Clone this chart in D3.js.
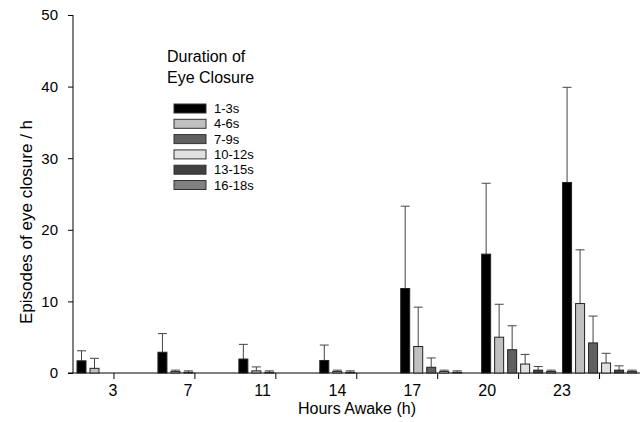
<!DOCTYPE html>
<html>
<head>
<meta charset="utf-8">
<script src="https://cdn.jsdelivr.net/npm/d3@7"></script>
<style>
  body { margin: 0; background: #fff; }
  svg { font-family: 'Liberation Sans', Arial, sans-serif; }
</style>
</head>
<body>
<svg width="643" height="422"></svg>
<script>
// hours awake on the x axis
const hours = [3, 7, 11, 14, 17, 20, 23]
const durations = ['1-3s', '4-6s', '7-9s', '10-12s', '13-15s', '16-18s']
const fills = ['#000000', '#c0c0c0', '#606060', '#e0e0e0', '#404040', '#808080']
const yTicks = [0, 10, 20, 30, 40, 50]

// mean episodes per hour, one array per duration class
const mean13 = [1.7, 2.9, 1.95, 1.75, 11.8, 16.6, 26.6]
const mean46 = [0.65, 0.2, 0.3, 0.2, 3.7, 5.0, 9.7]
const mean79 = [0, 0.1, 0.1, 0.1, 0.8, 3.25, 4.2]
const mean1012 = [0, 0, 0, 0, 0.2, 1.25, 1.4]
const mean1315 = [0, 0, 0, 0, 0.1, 0.4, 0.4]
const mean1618 = [0, 0, 0, 0, 0, 0.2, 0.2]

// upper error (SD)
const sd13 = [1.4, 2.6, 2.05, 2.15, 11.5, 9.9, 13.3]
const sd46 = [1.4, 0.2, 0.55, 0.2, 5.5, 4.6, 7.5]
const sd79 = [0, 0.2, 0.2, 0.2, 1.3, 3.35, 3.75]
const sd1012 = [0, 0, 0, 0, 0.2, 1.35, 1.35]
const sd1315 = [0, 0, 0, 0, 0.2, 0.5, 0.6]
const sd1618 = [0, 0, 0, 0, 0, 0.2, 0.2]

const means = [mean13, mean46, mean79, mean1012, mean1315, mean1618]
const sds = [sd13, sd46, sd79, sd1012, sd1315, sd1618]

let rows = []
hours.forEach((h, i) => {
  durations.forEach((d, j) => {
    rows.push({ hour: h, dur: d, fill: fills[j], v: means[j][i], e: sds[j][i] })
  })
})

let svg = d3.select('svg')

let y = d3.scaleLinear().domain([0, 50]).range([373, 15])
let x0 = d3.scaleBand().domain(hours).range([73.5, 640])
let x1 = d3.scaleBand().domain(durations).range([3.5, 77.5]).paddingInner(4 / 13)
let xLab = d3.scalePoint().domain(hours).range([113, 562])

// y axis
let yAxis = d3.axisLeft(y).tickValues(yTicks).tickSize(5).tickPadding(10)
let gy = svg.append('g')
  .attr('transform', 'translate(73, 0)')
  .call(yAxis)
gy.select('.domain').attr('d', 'M0,' + y(50) + 'V' + y(0)).attr('stroke', '#000')
gy.selectAll('text').attr('font-size', 15).attr('font-family', null).attr('fill', '#000')

// x axis line with ticks at group centres
let gx = svg.append('g')
gx.append('line')
  .attr('x1', 68).attr('x2', 640)
  .attr('y1', y(0)).attr('y2', y(0))
  .attr('stroke', '#000')
gx.selectAll('.tk')
  .data(hours)
  .enter()
  .append('line')
  .attr('class', 'tk')
  .attr('x1', d => x0(d) + x0.bandwidth() / 2)
  .attr('x2', d => x0(d) + x0.bandwidth() / 2)
  .attr('y1', y(0)).attr('y2', y(0) + 6)
  .attr('stroke', '#000')
gx.selectAll('.lb')
  .data(hours)
  .enter()
  .append('text')
  .attr('class', 'lb')
  .attr('x', d => xLab(d))
  .attr('y', 396)
  .attr('text-anchor', 'middle')
  .attr('font-size', 16)
  .text(d => d)

// error bars
let eb = svg.append('g')
  .selectAll('g')
  .data(rows.filter(r => r.e > 0))
  .enter()
  .append('g')
  .attr('stroke', '#444')
  .attr('stroke-width', 1)
eb.append('line')
  .attr('x1', d => x0(d.hour) + x1(d.dur) + x1.bandwidth() / 2)
  .attr('x2', d => x0(d.hour) + x1(d.dur) + x1.bandwidth() / 2)
  .attr('y1', d => y(d.v))
  .attr('y2', d => y(d.v + d.e))
eb.append('line')
  .attr('x1', d => x0(d.hour) + x1(d.dur))
  .attr('x2', d => x0(d.hour) + x1(d.dur) + x1.bandwidth())
  .attr('y1', d => y(d.v + d.e))
  .attr('y2', d => y(d.v + d.e))

// bars
svg.append('g')
  .selectAll('rect')
  .data(rows.filter(r => r.v > 0))
  .enter()
  .append('rect')
  .attr('x', d => x0(d.hour) + x1(d.dur))
  .attr('y', d => y(d.v))
  .attr('width', x1.bandwidth())
  .attr('height', d => y(0) - y(d.v))
  .attr('fill', d => d.fill)
  .attr('stroke', '#222')
  .attr('stroke-width', 1)

// axis titles
svg.append('text')
  .text('Hours Awake (h)')
  .attr('x', 357)
  .attr('y', 414)
  .attr('text-anchor', 'middle')
  .attr('font-size', 16)

svg.append('text')
  .text('Episodes of eye closure / h')
  .attr('transform', 'translate(32, 222) rotate(-90)')
  .attr('text-anchor', 'middle')
  .attr('font-size', 17)

// legend
let lg = svg.append('g').attr('transform', 'translate(167, 0)')
lg.append('text').text('Duration of').attr('x', 0).attr('y', 62).attr('font-size', 16)
lg.append('text').text('Eye Closure').attr('x', 0).attr('y', 83).attr('font-size', 16)
let li = lg.selectAll('.li')
  .data(durations)
  .enter()
  .append('g')
  .attr('class', 'li')
  .attr('transform', (d, i) => 'translate(7, ' + (104 + i * 15.3) + ')')
li.append('rect')
  .attr('width', 32).attr('height', 9)
  .attr('fill', (d, i) => fills[i])
  .attr('stroke', '#333')
li.append('text')
  .text(d => d)
  .attr('x', 40)
  .attr('y', 9)
  .attr('font-size', 13)
</script>
</body>
</html>
